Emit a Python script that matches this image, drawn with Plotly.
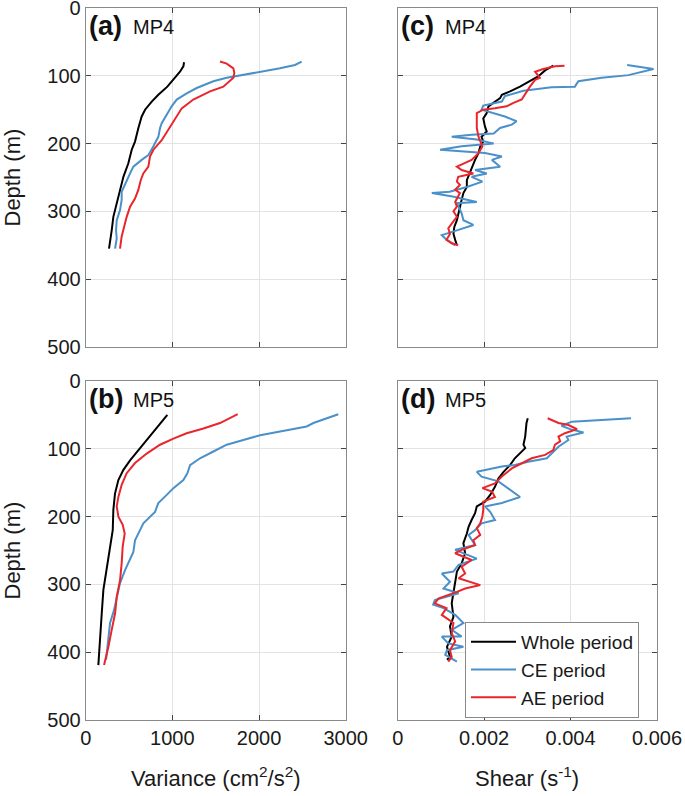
import plotly.graph_objects as go

# ---------------- data ----------------
# Panel (a) MP4 variance
a_whole_depth = [80, 86, 94, 103, 116, 128, 138, 150, 160, 177, 197, 209, 229, 249, 268, 288, 308, 328, 342, 355]
a_whole_var = [1135, 1127, 1088, 1031, 942, 838, 762, 685, 646, 608, 569, 531, 492, 435, 396, 358, 319, 300, 281, 269]
a_ce_depth = [79, 84, 89, 94, 100, 103, 108, 118, 126, 135, 145, 158, 170, 177, 190, 204, 217, 224, 234, 244, 259, 271, 283, 298, 313, 328, 340, 355]
a_ce_var = [2492, 2415, 2242, 2012, 1742, 1627, 1473, 1281, 1165, 1050, 992, 935, 877, 858, 838, 781, 723, 646, 550, 512, 454, 415, 415, 396, 358, 350, 358, 339]
a_ae_depth = [79, 82, 89, 96, 103, 116, 123, 135, 148, 160, 175, 195, 209, 219, 234, 244, 254, 268, 281, 293, 308, 323, 337, 355]
a_ae_var = [1550, 1627, 1704, 1715, 1704, 1588, 1435, 1242, 1108, 1050, 973, 877, 781, 742, 723, 665, 635, 608, 569, 512, 473, 442, 415, 396]

# Panel (b) MP5 variance
b_whole_depth = [50, 60, 72, 87, 102, 117, 131, 146, 166, 190, 220, 244, 279, 308, 343, 377, 419]
b_whole_var = [942, 877, 800, 704, 608, 512, 435, 377, 338, 319, 312, 281, 242, 204, 185, 165, 146]
b_ce_depth = [49, 55, 62, 67, 75, 80, 87, 94, 104, 114, 124, 136, 146, 158, 168, 180, 193, 200, 210, 220, 235, 252, 262, 279, 298, 318, 338, 357, 377, 397, 411]
b_ce_var = [2915, 2781, 2627, 2550, 2242, 2012, 1819, 1627, 1473, 1319, 1204, 1173, 1127, 1012, 935, 838, 800, 742, 665, 627, 569, 550, 512, 454, 396, 358, 327, 281, 262, 242, 235]
b_ae_depth = [49, 55, 62, 70, 77, 85, 94, 107, 121, 136, 153, 171, 185, 200, 212, 225, 244, 269, 294, 318, 343, 367, 392, 419]
b_ae_var = [1754, 1665, 1550, 1358, 1165, 1012, 858, 704, 569, 473, 415, 377, 358, 377, 427, 450, 427, 415, 396, 358, 339, 300, 262, 212]

# Panel (c) MP4 shear
c_whole_depth = [85, 92, 101, 108, 116, 123, 128, 133, 138, 145, 155, 163, 175, 182, 190, 197, 204, 214, 224, 234, 244, 254, 264, 273, 283, 293, 303, 313, 323, 333, 342, 350]
c_whole_shear = [0.00360, 0.00341, 0.00325, 0.00306, 0.00283, 0.00260, 0.00241, 0.00237, 0.00225, 0.00210, 0.00206, 0.00198, 0.00202, 0.00206, 0.00194, 0.00198, 0.00191, 0.00187, 0.00179, 0.00173, 0.00167, 0.00160, 0.00160, 0.00152, 0.00148, 0.00144, 0.00140, 0.00137, 0.00131, 0.00129, 0.00133, 0.00137]
c_ce_depth = [84, 90, 99, 103, 108, 113, 116, 117, 122, 130, 138, 144, 150, 160, 167, 172, 177, 185, 187, 190, 194, 200, 204, 209, 214, 219, 224, 234, 239, 244, 249, 256, 264, 271, 273, 278, 286, 288, 303, 313, 320, 328, 335, 340, 350]
c_ce_shear = [0.00531, 0.00592, 0.00534, 0.00472, 0.00418, 0.00414, 0.00410, 0.00356, 0.00291, 0.00248, 0.00241, 0.00198, 0.00194, 0.00248, 0.00275, 0.00264, 0.00237, 0.00222, 0.00171, 0.00125, 0.00183, 0.00222, 0.00148, 0.00098, 0.00202, 0.00241, 0.00218, 0.00237, 0.00179, 0.00206, 0.00171, 0.00196, 0.00160, 0.00120, 0.00079, 0.00127, 0.00183, 0.00137, 0.00148, 0.00152, 0.00175, 0.00137, 0.00102, 0.00110, 0.00133]
c_ae_depth = [85, 86, 90, 94, 103, 106, 116, 126, 135, 140, 145, 148, 150, 155, 165, 177, 190, 204, 214, 224, 234, 239, 244, 249, 256, 261, 268, 273, 286, 293, 300, 308, 318, 325, 333, 342, 347, 350]
c_ae_shear = [0.00386, 0.00364, 0.00337, 0.00318, 0.00329, 0.00318, 0.00306, 0.00295, 0.00287, 0.00268, 0.00252, 0.00225, 0.00198, 0.00183, 0.00183, 0.00183, 0.00187, 0.00196, 0.00187, 0.00171, 0.00137, 0.00148, 0.00175, 0.00140, 0.00137, 0.00144, 0.00133, 0.00144, 0.00133, 0.00137, 0.00129, 0.00137, 0.00125, 0.00117, 0.00121, 0.00113, 0.00125, 0.00140]

# Panel (d) MP5 shear
d_whole_depth = [55, 62, 82, 94, 99, 107, 114, 124, 134, 144, 156, 168, 178, 185, 195, 205, 215, 225, 239, 254, 269, 281, 298, 313, 328, 348, 362, 377, 392, 407, 411]
d_whole_shear = [0.00301, 0.00298, 0.00295, 0.00291, 0.00295, 0.00283, 0.00271, 0.00260, 0.00245, 0.00233, 0.00225, 0.00214, 0.00202, 0.00183, 0.00179, 0.00171, 0.00164, 0.00160, 0.00152, 0.00156, 0.00148, 0.00137, 0.00133, 0.00129, 0.00125, 0.00129, 0.00121, 0.00125, 0.00114, 0.00121, 0.00114]
d_ce_depth = [55, 58, 60, 66, 71, 76, 82, 87, 97, 114, 119, 124, 126, 134, 141, 148, 158, 171, 180, 185, 193, 205, 210, 220, 227, 242, 249, 262, 271, 281, 284, 296, 306, 313, 323, 330, 335, 345, 357, 367, 377, 377, 387, 392, 397, 404, 414]
d_ce_shear = [0.00540, 0.00457, 0.00403, 0.00379, 0.00399, 0.00430, 0.00391, 0.00395, 0.00372, 0.00345, 0.00302, 0.00271, 0.00241, 0.00183, 0.00194, 0.00233, 0.00256, 0.00283, 0.00241, 0.00202, 0.00214, 0.00225, 0.00194, 0.00179, 0.00164, 0.00179, 0.00133, 0.00183, 0.00141, 0.00129, 0.00102, 0.00121, 0.00106, 0.00141, 0.00086, 0.00082, 0.00106, 0.00133, 0.00152, 0.00125, 0.00148, 0.00102, 0.00117, 0.00152, 0.00114, 0.00110, 0.00137]
d_ae_depth = [55, 62, 65, 71, 77, 82, 89, 94, 102, 109, 114, 121, 129, 141, 151, 158, 163, 171, 178, 190, 200, 210, 217, 227, 235, 242, 249, 254, 264, 274, 284, 291, 301, 306, 311, 321, 328, 335, 345, 357, 372, 384, 397, 407, 414]
d_ae_shear = [0.00347, 0.00372, 0.00395, 0.00415, 0.00387, 0.00372, 0.00376, 0.00364, 0.00360, 0.00341, 0.00310, 0.00287, 0.00264, 0.00241, 0.00225, 0.00196, 0.00218, 0.00225, 0.00198, 0.00198, 0.00196, 0.00191, 0.00183, 0.00191, 0.00175, 0.00179, 0.00148, 0.00133, 0.00171, 0.00148, 0.00156, 0.00141, 0.00191, 0.00156, 0.00137, 0.00094, 0.00086, 0.00113, 0.00102, 0.00129, 0.00125, 0.00133, 0.00121, 0.00125, 0.00117]

series_names = ["Whole period", "CE period", "AE period"]
depth_ticks = [0, 100, 200, 300, 400, 500]
var_ticks = [0, 1000, 2000, 3000]
shear_ticks = [0, 0.002, 0.004, 0.006]
shear_tick_text = ["0", "0.002", "0.004", "0.006"]
panel_letters = ["(a)", "(c)", "(b)", "(d)"]
panel_sites = ["MP4", "MP4", "MP5", "MP5"]

# ---------------- styling ----------------
W, H = 685, 796
FONT = "Liberation Sans, Arial, Helvetica, sans-serif"
COLORS = ["#000000", "#4A90C9", "#E8262B"]
FRAME = "#8a8a8a"

xdom_left = [85.7 / W, 345.7 / W]
xdom_right = [397.7 / W, 657.0 / W]
ydom_top = [1 - 347.0 / H, 1 - 8.0 / H]
ydom_bot = [1 - 720.0 / H, 1 - 381.0 / H]

fig = go.Figure()

panels = [
    ("x", "y", [(a_whole_var, a_whole_depth), (a_ce_var, a_ce_depth), (a_ae_var, a_ae_depth)]),
    ("x2", "y2", [(c_whole_shear, c_whole_depth), (c_ce_shear, c_ce_depth), (c_ae_shear, c_ae_depth)]),
    ("x3", "y3", [(b_whole_var, b_whole_depth), (b_ce_var, b_ce_depth), (b_ae_var, b_ae_depth)]),
    ("x4", "y4", [(d_whole_shear, d_whole_depth), (d_ce_shear, d_ce_depth), (d_ae_shear, d_ae_depth)]),
]

for pi, (xa, ya, series) in enumerate(panels):
    for si, (xv, yv) in enumerate(series):
        fig.add_trace(go.Scatter(
            x=xv, y=yv, xaxis=xa, yaxis=ya, mode="lines",
            name=series_names[si],
            line=dict(color=COLORS[si], width=2),
            showlegend=(pi == 3),
        ))

common_axis = dict(
    showline=True, mirror="ticks", linecolor=FRAME, linewidth=1,
    ticks="inside", ticklen=5, tickcolor="#444444", tickwidth=1,
    showgrid=True, gridcolor="#e3e3e3", gridwidth=1, zeroline=False,
    automargin=False, ticklabeloverflow="allow",
    tickfont=dict(family=FONT, size=20, color="#1a1a1a"),
)

def xaxis_cfg(domain, anchor, shear, labels):
    cfg = dict(common_axis, domain=domain, anchor=anchor)
    if shear:
        cfg.update(range=[0, 0.006], tickvals=shear_ticks, ticktext=shear_tick_text)
    else:
        cfg.update(range=[0, 3000], tickvals=var_ticks)
    cfg["showticklabels"] = labels
    return cfg

def yaxis_cfg(domain, anchor, labels):
    cfg = dict(common_axis, domain=domain, anchor=anchor, range=[500, 0], tickvals=depth_ticks)
    cfg["showticklabels"] = labels
    return cfg

fig.update_layout(
    width=W, height=H,
    margin=dict(l=0, r=0, t=0, b=0, autoexpand=False),
    paper_bgcolor="white", plot_bgcolor="white",
    font=dict(family=FONT, size=20, color="#1a1a1a"),
    xaxis=xaxis_cfg(xdom_left, "y", False, False),
    yaxis=yaxis_cfg(ydom_top, "x", True),
    xaxis2=xaxis_cfg(xdom_right, "y2", True, False),
    yaxis2=yaxis_cfg(ydom_top, "x2", False),
    xaxis3=xaxis_cfg(xdom_left, "y3", False, True),
    yaxis3=yaxis_cfg(ydom_bot, "x3", True),
    xaxis4=xaxis_cfg(xdom_right, "y4", True, True),
    yaxis4=yaxis_cfg(ydom_bot, "x4", False),
    legend=dict(
        x=465 / W, y=1 - 622 / H, xanchor="left", yanchor="top",
        bordercolor=FRAME, borderwidth=1, bgcolor="white",
        font=dict(family=FONT, size=19, color="#1a1a1a"),
        tracegroupgap=0, itemwidth=45,
    ),
)

# panel labels
label_pos = [(xdom_left[0], ydom_top[1]), (xdom_right[0], ydom_top[1]),
             (xdom_left[0], ydom_bot[1]), (xdom_right[0], ydom_bot[1])]
for (px, py), letter, site in zip(label_pos, panel_letters, panel_sites):
    fig.add_annotation(xref="paper", yref="paper", x=px + 1 / W, y=py - 18 / H,
                       text="<b>" + letter + "</b>", showarrow=False,
                       xanchor="left", yanchor="middle",
                       font=dict(family=FONT, size=27, color="#111111"))
    fig.add_annotation(xref="paper", yref="paper", x=px + 45 / W, y=py - 19 / H,
                       text=site, showarrow=False,
                       xanchor="left", yanchor="middle",
                       font=dict(family=FONT, size=20, color="#111111"))

# axis titles
for yd in (ydom_top, ydom_bot):
    fig.add_annotation(xref="paper", yref="paper", x=12 / W, y=(yd[0] + yd[1]) / 2,
                       text="Depth (m)", textangle=-90, showarrow=False,
                       xanchor="center", yanchor="middle",
                       font=dict(family=FONT, size=22, color="#1a1a1a"))

fig.add_annotation(xref="paper", yref="paper", x=(xdom_left[0] + xdom_left[1]) / 2, y=1 - 777 / H,
                   text="Variance (cm<sup>2</sup>/s<sup>2</sup>)", showarrow=False,
                   xanchor="center", yanchor="middle",
                   font=dict(family=FONT, size=22, color="#1a1a1a"))
fig.add_annotation(xref="paper", yref="paper", x=(xdom_right[0] + xdom_right[1]) / 2, y=1 - 777 / H,
                   text="Shear (s<sup>-1</sup>)", showarrow=False,
                   xanchor="center", yanchor="middle",
                   font=dict(family=FONT, size=22, color="#1a1a1a"))

fig.write_html("out.html", config={"displayModeBar": False},
               post_script="document.body.style.margin='0';document.body.style.overflow='hidden';")
